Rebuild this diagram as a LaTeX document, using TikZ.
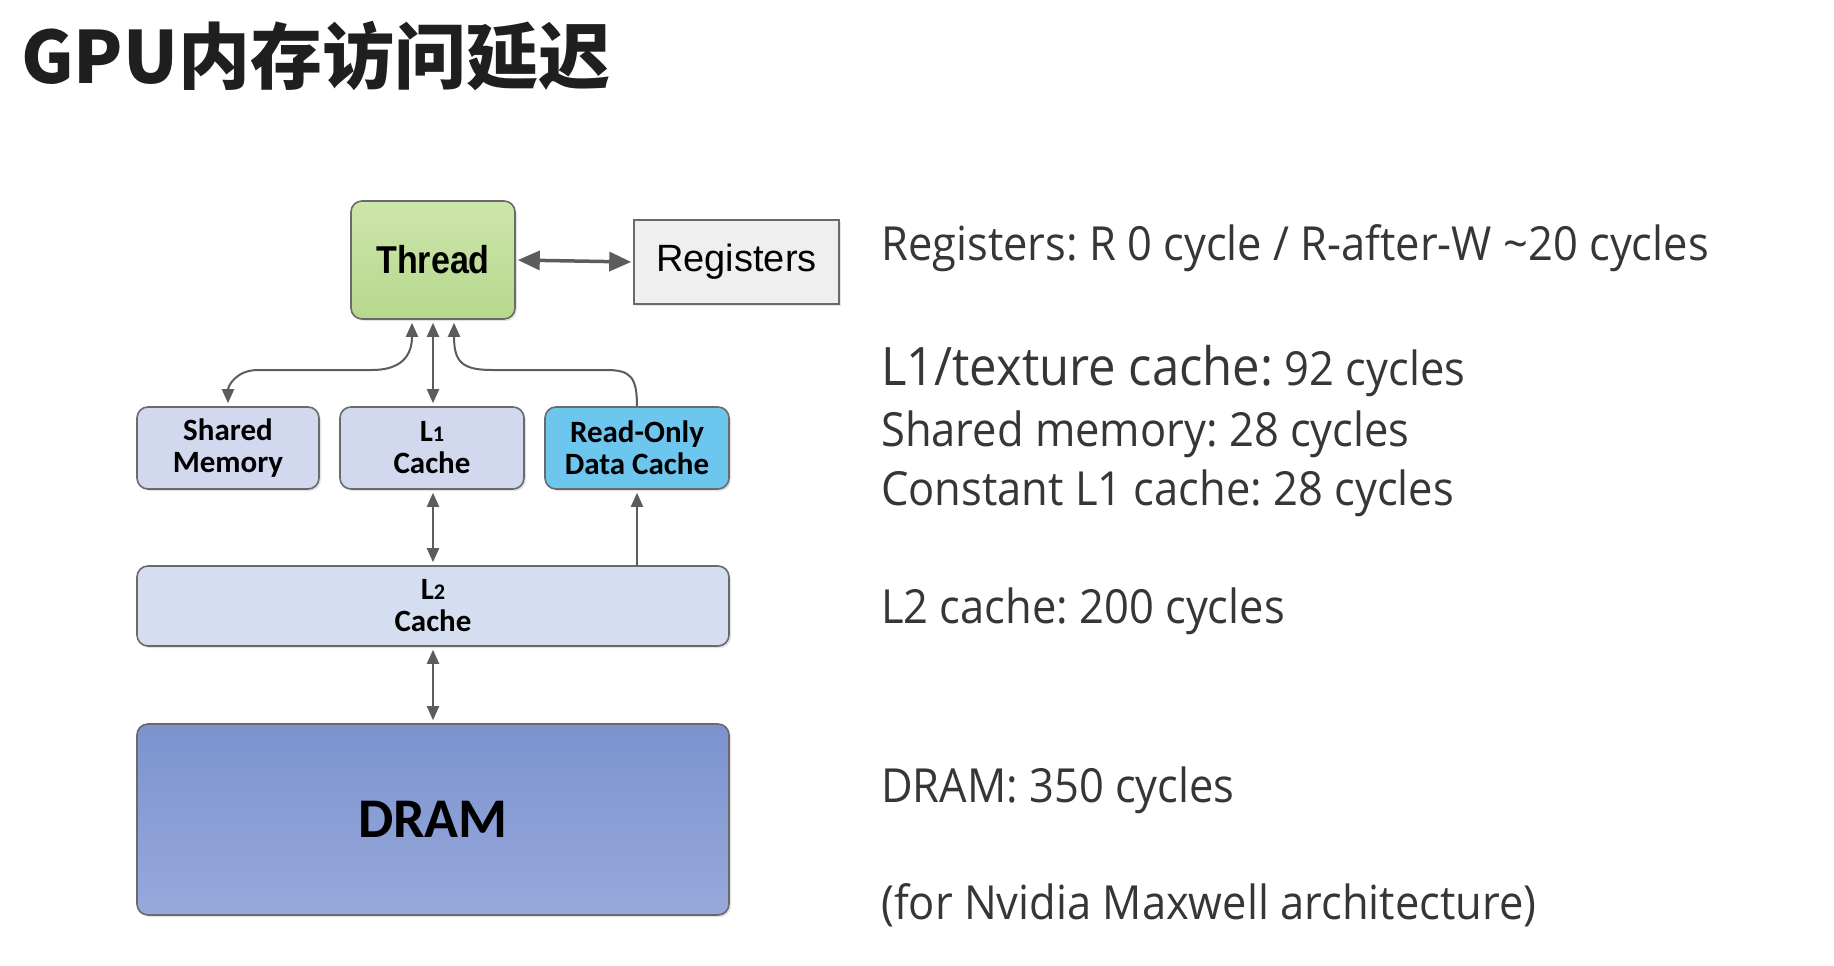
\documentclass[tikz,border=0pt]{standalone}
\usepackage{fontspec}
\usepackage{graphicx}
\setmainfont{Liberation Sans}
\newfontfamily\cjk{Noto Sans CJK SC}
\newfontfamily\carl{Carlito}
\newfontfamily\osans{Open Sans}
\usetikzlibrary{arrows.meta,shadows}
\frenchspacing
\definecolor{edgegray}{HTML}{6A6A6A}
\definecolor{arrowgray}{HTML}{5C5C5C}
\definecolor{txtgray}{HTML}{363636}
\definecolor{threadtop}{HTML}{CDE6AB}
\definecolor{threadbot}{HTML}{B6D88C}
\definecolor{regfill}{HTML}{EFEFEF}
\definecolor{lavfill}{HTML}{D2D9EF}
\definecolor{l2fill}{HTML}{D5DDF1}
\definecolor{rofill}{HTML}{6DC6EE}
\definecolor{dramtop}{HTML}{7C93CE}
\definecolor{drambot}{HTML}{97A9DC}
\newcommand{\osf}[1]{\scalebox{0.72}{#1}}
\newcommand{\sq}[1]{\scalebox{0.925}[1]{#1}}
\tikzset{
  box/.style={draw=edgegray, line width=1.6pt, rounded corners=11pt, inner sep=0pt, align=center,
    drop shadow={opacity=0.22, shadow xshift=2pt, shadow yshift=-2pt}},
  boxfont/.style={font=\carl\bfseries\fontsize{31}{34}\selectfont},
  darr/.style={arrowgray, line width=2pt, {Triangle[length=14pt,width=12pt]}-{Triangle[length=14pt,width=12pt]}},
  sarr/.style={arrowgray, line width=2pt, -{Triangle[length=14pt,width=12pt]}},
  rtext/.style={anchor=base west, inner sep=0pt, text=txtgray, font=\osans\fontsize{47}{50}\selectfont}
}
\begin{document}
\begin{tikzpicture}[x=1pt,y=-1pt]
\useasboundingbox (0,0) rectangle (1834,966);
\fill[white] (0,0) rectangle (1834,966);
% title
\node[anchor=base west, inner sep=0pt, font=\cjk\bfseries\fontsize{72}{78}\selectfont, text=black!88] (title) at (21,83) {GPU内存访问延迟};
% boxes
\node[box, top color=threadtop, bottom color=threadbot, minimum width=164pt, minimum height=118pt,
  font=\bfseries\fontsize{37}{40}\selectfont] (thread) at (433,260) {\scalebox{0.92}[1.05]{Thread}};
\node[box, fill=regfill, rounded corners=0pt, drop shadow={opacity=0}, minimum width=205pt, minimum height=84pt,
  font=\fontsize{38}{40}\selectfont] (reg) at (736.5,262) {Registers};
\node[box, fill=lavfill, minimum width=182pt, minimum height=82pt, boxfont] (shared) at (228,448) {Shared\\[-2pt]Memory};
\node[box, fill=lavfill, minimum width=184pt, minimum height=82pt, boxfont] (l1) at (432,448) {L\osf{1}\\[-2pt]Cache};
\node[box, fill=rofill, minimum width=184pt, minimum height=82pt, boxfont] (ro) at (637,448) {Read-Only\\[-2pt]Data Cache};
\node[box, fill=l2fill, minimum width=592pt, minimum height=80pt, boxfont] (l2) at (433,606) {L\osf{2}\\[-2pt]Cache};
\node[box, top color=dramtop, bottom color=drambot, minimum width=592pt, minimum height=191pt,
  font=\carl\bfseries\fontsize{56}{60}\selectfont] (dram) at (433,819.5) {DRAM};
% connectors
\draw[arrowgray, line width=3.5pt, {Triangle[length=22pt,width=19pt]}-{Triangle[length=22pt,width=19pt]}, shorten <=2pt, shorten >=2pt] (thread.east) -- (reg.west);
\draw[darr, shorten <=3pt, shorten >=3pt] (thread.south -| l2.center) -- (l1.north -| l2.center);
\draw[darr, shorten <=3pt, shorten >=3pt] (l1.south -| l2.center) -- (l2.north);
\draw[darr, shorten <=3pt, shorten >=3pt] (l2.south) -- (dram.north);
\draw[sarr, shorten >=3pt] (l2.north -| ro.center) -- (ro.south);
\draw[darr, shorten <=3pt, shorten >=3pt] ([xshift=-21pt]thread.south) .. controls +(0,42) and +(22,0) .. (372,370) -- (258,370) .. controls +(-22,0) and +(0,-20) .. (shared.north);
\draw[sarr, shorten >=3pt] (ro.north) .. controls +(0,-30) and +(24,0) .. (606,370) -- (492,370) .. controls +(-30,0) and +(0,42) .. ([xshift=21pt]thread.south);
% right text
\node[rtext] (t1) at (881,260) {\sq{Registers: R 0 cycle / R-after-W \textasciitilde20 cycles}};
\node[rtext] (t2) at (881,385) {\sq{{\fontsize{53}{56}\selectfont L1/texture cache:} 92 cycles}};
\node[rtext] (t3) at (881,446) {\sq{Shared memory: 28 cycles}};
\node[rtext] (t4) at (881,505) {\sq{Constant L1 cache: 28 cycles}};
\node[rtext] (t5) at (881,623) {\sq{L2 cache: 200 cycles}};
\node[rtext] (t6) at (881,802) {\sq{DRAM: 350 cycles}};
\node[rtext] (t7) at (881,919) {\sq{(for Nvidia Maxwell architecture)}};
\end{tikzpicture}
\end{document}
